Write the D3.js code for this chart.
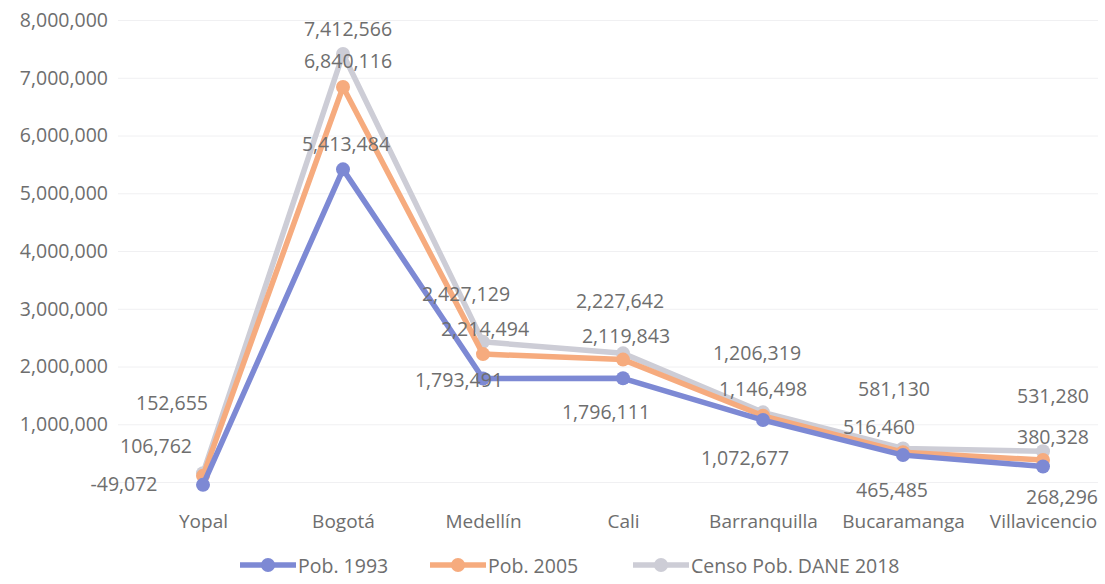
<!DOCTYPE html>
<html>
<head>
<meta charset="utf-8">
<script src="https://cdn.jsdelivr.net/npm/d3@7"></script>
<style>
  body { margin: 0; background: #fff; }
  text { font-family: "Open Sans", sans-serif; fill: #6e6e6e; }
</style>
</head>
<body>
<div id="chart"></div>
<script>
const cities = ["Yopal", "Bogotá", "Medellín", "Cali", "Barranquilla", "Bucaramanga", "Villavicencio"];
const pob1993 = [-49072, 5413484, 1793491, 1796111, 1072677, 465485, 268296];
const pob2005 = [106762, 6840116, 2214494, 2119843, 1146498, 516460, 380328];
const censo2018 = [152655, 7412566, 2427129, 2227642, 1206319, 581130, 531280];
const yTicks = [0, 1000000, 2000000, 3000000, 4000000, 5000000, 6000000, 7000000, 8000000];

// label nudges (dx, dy) relative to each point, as placed in the original
const off1993 = [[-79, -1], [3, -26], [-24, 1], [-17, 33], [-18, 37], [-11, 34], [19, 30]];
const off2005 = [[-47, -30], [5, -26], [2, -26], [3, -24], [0, -27], [-24, -26], [10, -24]];
const off2018 = [[-31, -71], [5, -25], [-17, -48], [-3, -53], [-6, -60], [-9, -60], [10, -56]];

const series = [
  { name: "Pob. 1993", values: pob1993, color: "#7d89d4", offs: off1993 },
  { name: "Pob. 2005", values: pob2005, color: "#f6ab7e", offs: off2005 },
  { name: "Censo Pob. DANE 2018", values: censo2018, color: "#cdcdd6", offs: off2018 }
];

const svgWidth = 1105;
const svgHeight = 584;

const svg = d3.select("#chart")
    .append("svg")
    .attr("width", svgWidth)
    .attr("height", svgHeight);

const xScale = d3.scalePoint()
    .domain(cities)
    .range([203, 1043]);

const yScale = d3.scaleLinear()
    .domain([0, 8000000])
    .range([482, 20]);

const locale = d3.formatLocale({ decimal: ".", thousands: ",", grouping: [3], currency: ["", ""], minus: "-" });
const fmt = locale.format(",");

// gridlines
svg.append("g")
    .attr("class", "grid")
    .attr("transform", "translate(118,0)")
    .call(d3.axisLeft(yScale).tickValues(yTicks).tickSize(-980).tickFormat(""))
    .call(g => g.select(".domain").remove())
    .selectAll("line")
    .attr("stroke", "#f0f0f2");

// y axis labels
svg.append("g")
    .attr("class", "axis-y")
    .attr("transform", "translate(108,0)")
    .call(d3.axisLeft(yScale).tickValues(yTicks.slice(1)).tickSize(0).tickFormat(fmt))
    .call(g => g.select(".domain").remove())
    .selectAll("text")
    .style("font-size", "19.5px")
    .attr("x", 0);

// x axis labels
svg.append("g")
    .attr("class", "axis-x")
    .attr("transform", "translate(0,511)")
    .call(d3.axisBottom(xScale).tickSize(0))
    .call(g => g.select(".domain").remove())
    .selectAll("text")
    .style("font-size", "19px");

const line = d3.line()
    .x((d, i) => xScale(cities[i]))
    .y(d => yScale(d));

// draw lines back to front so 1993 sits on top
series.slice().reverse().forEach(s => {
  svg.append("path")
      .datum(s.values)
      .attr("fill", "none")
      .attr("stroke", s.color)
      .attr("stroke-width", 5.5)
      .attr("stroke-linejoin", "round")
      .attr("d", line);

  svg.selectAll(null)
      .data(s.values)
      .enter()
      .append("circle")
      .attr("cx", (d, i) => xScale(cities[i]))
      .attr("cy", d => yScale(d))
      .attr("r", 7)
      .attr("fill", s.color);
});

// data labels
series.forEach(s => {
  svg.selectAll(null)
      .data(s.values)
      .enter()
      .append("text")
      .attr("x", (d, i) => xScale(cities[i]) + s.offs[i][0])
      .attr("y", (d, i) => yScale(d) + s.offs[i][1])
      .attr("text-anchor", "middle")
      .attr("dominant-baseline", "central")
      .style("font-size", "19.5px")
      .text(d => fmt(d));
});

// legend
const legendX = [240, 430, 633];
const legend = svg.append("g").attr("class", "legend");
series.forEach((s, i) => {
  const g = legend.append("g").attr("transform", "translate(" + legendX[i] + ",565)");
  g.append("line")
      .attr("x1", 0).attr("x2", 56)
      .attr("stroke", s.color)
      .attr("stroke-width", 5.5);
  g.append("circle")
      .attr("cx", 28).attr("r", 7)
      .attr("fill", s.color);
  g.append("text")
      .attr("x", 58)
      .attr("dominant-baseline", "central")
      .style("font-size", "19.5px")
      .text(s.name);
});
</script>
</body>
</html>
